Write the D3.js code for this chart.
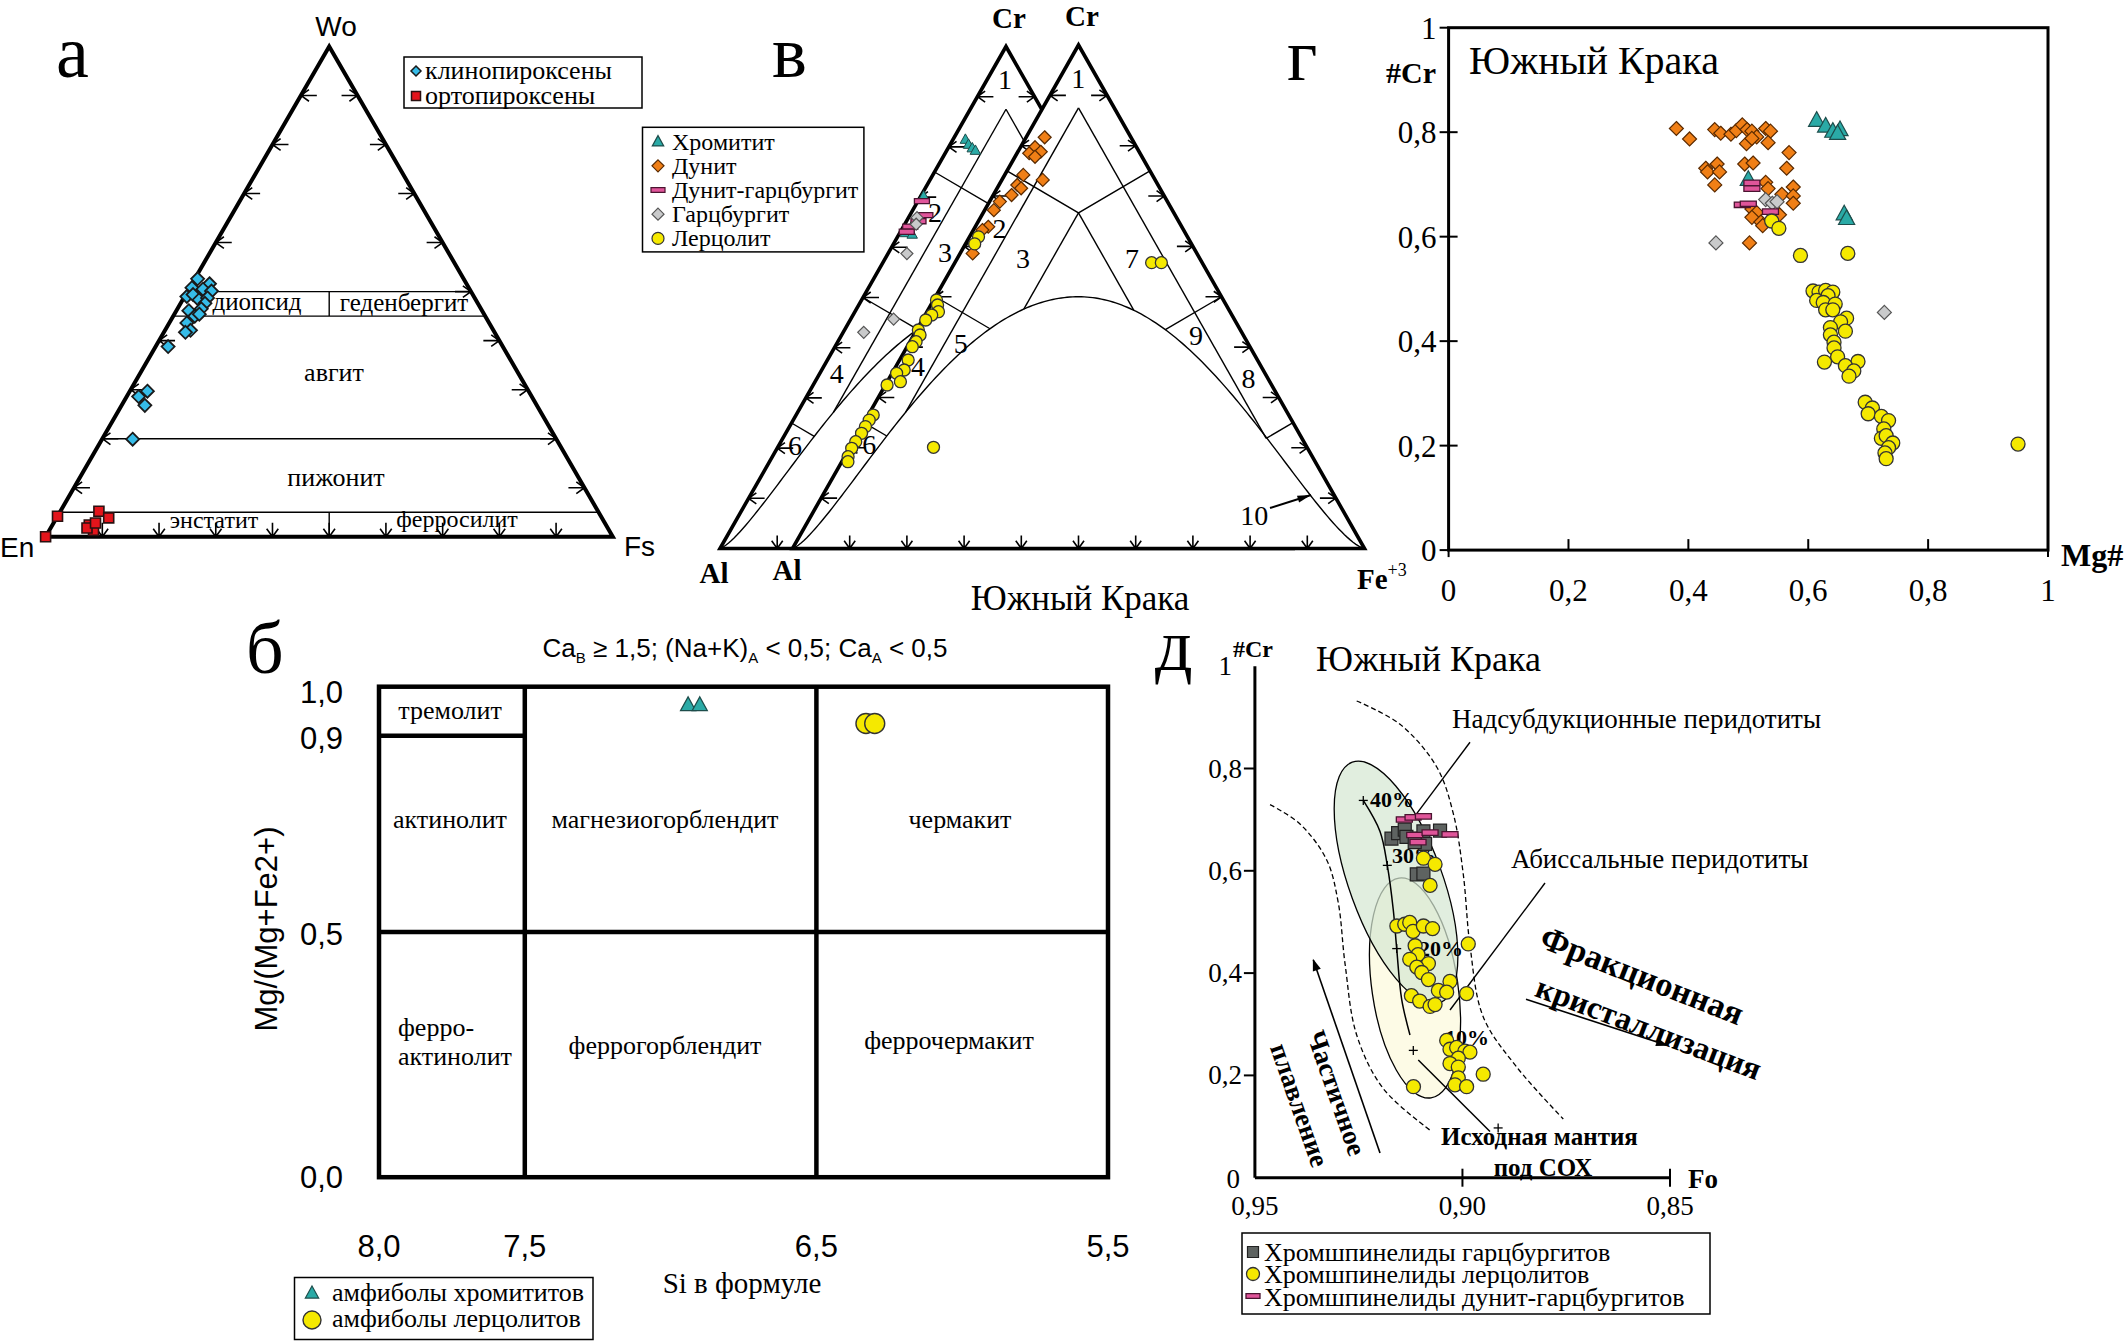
<!DOCTYPE html>
<html><head><meta charset="utf-8">
<script src="https://d3js.org/d3.v7.min.js"></script>
<style>html,body{margin:0;padding:0;background:#fff}svg{display:block}</style>
</head><body>
<svg id="chart" width="2126" height="1341" xmlns="http://www.w3.org/2000/svg"></svg>
<script>
// ================= DATA =================
// Panel а : pyroxenes, [Wo, Fs] fractions (En = 1 - Wo - Fs)
const aCpx = [[0.526,0.005],[0.516,0.031],[0.508,0.004],[0.505,0.025],[0.501,0.042],[0.490,0.004],[0.494,0.013],[0.483,0.029],[0.487,0.042],[0.476,0.043],[0.461,0.022],[0.465,0.042],[0.450,0.038],[0.454,0.044],[0.436,0.031],[0.421,0.045],[0.417,0.038],[0.388,0.022],[0.297,0.031],[0.286,0.021],[0.268,0.041],[0.199,0.054]];
const aOpx = [[0,0],[0.042,0],[0.052,0.068],[0.0385,0.092],[0.024,0.065],[0.013,0.078],[0.018,0.064],[0.028,0.074]];
const aBands = [0.5,0.45,0.2,0.05];
const aTicks = [0.1,0.2,0.3,0.4,0.5,0.6,0.7,0.8,0.9];

// Panel в : chrome spinels, [Cr, Fe3+] fractions (Al = 1 - Cr - Fe)
const vChromL = [[0.815,0.0215],[0.805,0.032],[0.798,0.042],[0.793,0.05],[0.702,0.005],[0.649,0.014],[0.629,0.0095],[0.626,0.023]];
const vDunHarzL = [[0.692,0.007],[0.664,0.027],[0.652,0.021],[0.641,0.012],[0.631,0.011]];
const vHarzL = [[0.659,0.015],[0.646,0.02],[0.5875,0.033],[0.457,0.075],[0.4306,0.036]];
const vDuniteR = [[0.8167,0.0325],[0.797,0.0255],[0.788,0.04],[0.785,0.0213],[0.778,0.035],[0.732,0.0715],[0.742,0.0325],[0.722,0.032],[0.7154,0.042],[0.702,0.032],[0.689,0.018],[0.672,0.016],[0.639,0.0227],[0.6326,0.0157],[0.586,0.022]];
const vLherzR = [[0.619,0.0157],[0.605,0.016],[0.4935,0.005],[0.4836,0.0118],[0.4703,0.02],[0.4638,0.0115],[0.4538,0.006],[0.434,0.003],[0.424,0.011],[0.4107,0.0107],[0.4008,0.009],[0.3744,0.015],[0.3545,0.018],[0.348,0.008],[0.3313,0.023],[0.3247,0.003],[0.265,0.0086],[0.255,0.0066],[0.242,0.0065],[0.2288,0.0063],[0.2121,0.0045],[0.199,0.004],[0.1823,0.006],[0.1724,0.0107],[0.201,0.146],[0.5677,0.344],[0.5677,0.361]];
const vFieldR = [["1",0.934,0.0325],["2",0.636,0.044],["3",0.576,0.1148],["7",0.576,0.3054],["4",0.361,0.0387],["5",0.4075,0.0903],["6",0.2056,0.0313],["9",0.424,0.4934],["8",0.338,0.6284],["10",0.0665,0.7742]];
const vFieldL = [["1",0.934,0.0313],["2",0.669,0.0414],["3",0.5895,0.0986],["4",0.348,0.03],["6",0.2056,0.0283]];
const vTicks = [0.1,0.2,0.3,0.4,0.5,0.6,0.7,0.8,0.9];

// Panel г : #Cr vs Mg#, [Mg#, #Cr]
const gDunite = [[.380,.807],[.402,.787],[.444,.805],[.454,.798],[.471,.796],[.480,.803],[.490,.814],[.498,.805],[.506,.802],[.514,.791],[.529,.807],[.537,.802],[.497,.778],[.506,.788],[.533,.780],[.568,.761],[.564,.731],[.429,.731],[.432,.724],[.448,.739],[.452,.724],[.444,.699],[.494,.739],[.508,.741],[.529,.704],[.533,.692],[.556,.681],[.575,.695],[.575,.678],[.575,.664],[.506,.653],[.514,.646],[.506,.637],[.521,.628],[.524,.621],[.552,.642],[.502,.588]];
const gHarz = [[.446,.588],[.529,.671],[.540,.664],[.548,.667],[.727,.455]];
const gChrom = [[.614,.823],[.629,.812],[.641,.802],[.653,.805],[.649,.798],[.500,.710],[.660,.644],[.664,.635]];
const gDunHarz = [[.506,.703],[.506,.692],[.490,.661],[.537,.648],[.500,.663]];
const gLherz = [[.539,.630],[.551,.616],[.587,.564],[.666,.568],[.608,.496],[.618,.494],[.629,.497],[.641,.494],[.633,.487],[.614,.478],[.625,.474],[.645,.471],[.629,.460],[.641,.460],[.664,.444],[.654,.437],[.637,.426],[.662,.419],[.637,.412],[.643,.398],[.643,.387],[.649,.370],[.627,.360],[.683,.361],[.662,.353],[.676,.343],[.668,.333],[.695,.283],[.707,.272],[.700,.261],[.722,.256],[.734,.248],[.726,.232],[.722,.214],[.730,.219],[.741,.205],[.734,.196],[.728,.186],[.730,.175],[.950,.203]];
const gTicks = [0,0.2,0.4,0.6,0.8,1];

// Panel б : amphiboles, [Si, Mg/(Mg+Fe2+)]
const bChrom = [[6.94,0.963],[6.90,0.963]];
const bLherz = [[6.33,0.925],[6.30,0.925]];
const bXTicks = [8.0,7.5,6.5,5.5];
const bYTicks = [1.0,0.9,0.5,0.0];

// Panel д : #Cr vs Fo, [Fo, #Cr]
const dHarz = [[.9171,.6629],[.9155,.6735],[.9139,.6805],[.9135,.6665],[.911,.663],[.9094,.6771],[.909,.6526],[.9115,.656],[.9054,.6786],[.911,.5932],[.9094,.5945]];
const dDunHarz = [[.914,.7003],[.9119,.7045],[.9094,.7063],[.9115,.67],[.9078,.6747],[.903,.6713],[.9107,.656]];
const dLherz = [[.9094,.6246],[.9066,.6127],[.9078,.5715],[.9158,.4921],[.9139,.4955],[.9127,.499],[.9119,.4816],[.9094,.4921],[.9072,.487],[.9114,.4535],[.9107,.4361],[.9127,.427],[.9082,.4186],[.911,.4117],[.9098,.4012],[.9082,.3873],[.903,.3837],[.9058,.3662],[.9038,.3628],[.9123,.3558],[.9103,.3454],[.9078,.3349],[.9066,.3384],[.8986,.457],[.899,.3599],[.9038,.2684],[.903,.2511],[.9014,.2546],[.8994,.2475],[.8982,.2455],[.901,.2337],[.903,.2232],[.901,.2163],[.895,.2023],[.901,.1953],[.9018,.1815],[.899,.178],[.9118,.178]];
const dLeftDash = [[.94636,.7294],[.93914,.6915],[.9327,.6211],[.92991,.5372],[.92829,.4186],[.92548,.279],[.91907,.1742],[.90741,.0905]];
const dRightDash = [[.92548,.932],[.91504,.8864],[.9062,.8029],[.9022,.7118],[.8998,.5932],[.89818,.4536],[.89498,.3142],[.88693,.2164],[.87571,.1148]];
const dTrendA = [[.92389,.7376],[.91986,.677],[.9181,.6106],[.91666,.5234],[.91584,.4479],[.91464,.3488],[.91264,.279]];
const dTrendB = [[.91064,.2301],[.89336,.0905]];
const dPlus = [[.92389,.7376],[.9181,.6106],[.91584,.4479],[.91184,.2489],[.8914,.0973]];
const dYTicks = [0.2,0.4,0.6,0.8];
const dXTicks = [0.95,0.90,0.85];

// ================= HELPERS =================
const SERIF='"Liberation Serif","Times New Roman",serif', SANS='"Liberation Sans",Arial,sans-serif';
const svg=d3.select('#chart');
svg.append('rect').attr('width',2126).attr('height',1341).attr('fill','#fff');
const L=d3.line();
function T(g,x,y,s,o={}){
  const t=g.append('text').attr('x',x).attr('y',y).text(s)
    .attr('font-family',o.sans?SANS:SERIF).attr('font-size',o.size||26)
    .attr('text-anchor',o.anchor||'start').attr('fill','#000');
  if(o.bold) t.attr('font-weight','bold');
  return t;
}
function shape(g,kind,x,y,s,fill,stroke,sw){
  if(kind==='circle') return g.append('circle').attr('cx',x).attr('cy',y).attr('r',s).attr('fill',fill).attr('stroke',stroke).attr('stroke-width',sw);
  let d;
  if(kind==='diamond') d=`M${x},${y-s}L${x+s},${y}L${x},${y+s}L${x-s},${y}Z`;
  else if(kind==='square') d=`M${x-s},${y-s}h${2*s}v${2*s}h${-2*s}Z`;
  else if(kind==='triangle') d=`M${x},${y-s}L${x+s*0.95},${y+s*0.72}L${x-s*0.95},${y+s*0.72}Z`;
  else if(kind==='bar') d=`M${x-s},${y-s*0.34}h${2*s}v${s*0.68}h${-2*s}Z`;
  return g.append('path').attr('d',d).attr('fill',fill).attr('stroke',stroke).attr('stroke-width',sw);
}
const C_CYAN='#36bce8', C_RED='#e3141b', C_TEAL='#2aaaa6', C_ORANGE='#f07f16', C_PINK='#e0559a', C_GRAY='#c9cacb', C_YEL='#f5e900', C_DGRAY='#5e6361';
function arrow(g,x,y,dx,dy,len,head,sw){
  const p=d3.path(); p.moveTo(x,y); p.lineTo(x+dx*len,y+dy*len);
  const a=0.62;
  for(const s of [-1,1]){const c=Math.cos(s*a),sn=Math.sin(s*a);p.moveTo(x,y);p.lineTo(x+(dx*c-dy*sn)*head,y+(dx*sn+dy*c)*head);}
  g.append('path').attr('d',p.toString()).attr('fill','none').attr('stroke','#000').attr('stroke-width',sw||1.6);
}
function path(g,pts,sw){return g.append('path').attr('d',L(pts)).attr('fill','none').attr('stroke','#000').attr('stroke-width',sw);}

// ================= PANEL а =================
{
const g=svg.append('g');
const aX=d3.scaleLinear().domain([0,1]).range([45.6,612.8]);
const aY=d3.scaleLinear().domain([0,1]).range([536.8,46.4]);
const P=(wo,fs)=>[aX(fs+wo/2),aY(wo)];
aBands.forEach(wo=>path(g,[P(wo,0),P(wo,1-wo)],1.4));
path(g,[P(0.45,0.275),P(0.5,0.25)],1.4);
path(g,[P(0,0.5),P(0.05,0.475)],1.4);
aTicks.forEach(k=>{arrow(g,...P(k,0),1,0,16,10);arrow(g,...P(k,1-k),-1,0,16,10);arrow(g,...P(0,k),0,-1,14,10);});
g.append('path').attr('d',L([P(0,0),P(0,1),P(1,0)])+'Z').attr('fill','none').attr('stroke','#000').attr('stroke-width',4).attr('stroke-linejoin','miter');
T(g,257,310,'диопсид',{size:25,anchor:'middle'});
T(g,404,311,'геденбергит',{size:25,anchor:'middle'});
T(g,334,381,'авгит',{size:26,anchor:'middle'});
T(g,336,486,'пижонит',{size:26,anchor:'middle'});
T(g,214,528,'энстатит',{size:24,anchor:'middle'});
T(g,457,527,'ферросилит',{size:24,anchor:'middle'});
aCpx.forEach(d=>shape(g,'diamond',...P(d[0],d[1]),6.5,C_CYAN,'#1a1a1a',1.8));
aOpx.forEach(d=>shape(g,'square',...P(d[0],d[1]),5,C_RED,'#2a1010',1.6));
T(g,336,36,'Wo',{sans:true,size:28,anchor:'middle'});
T(g,0,557,'En',{sans:true,size:28});
T(g,624,556,'Fs',{sans:true,size:28});
T(g,56,77,'а',{size:74});
g.append('rect').attr('x',404).attr('y',57).attr('width',238).attr('height',51).attr('fill','none').attr('stroke','#000').attr('stroke-width',1.5);
shape(g,'diamond',416,71,5,C_CYAN,'#1a1a1a',1.5);
shape(g,'square',416,96,4.5,C_RED,'#2a1010',1.5);
T(g,425,79,'клинопироксены',{size:26});
T(g,425,104,'ортопироксены',{size:26});
}

// ================= PANEL в =================
function arcH(u){const n=u<0?1.35:1.45;return 0.5*Math.pow(Math.max(0,1-u*u),n);}
function toArc(f,t1){let lo=0,hi=t1;for(let i=0;i<50;i++){const m=(lo+hi)/2;const [cr,fe]=f(m);const u=2*fe+cr-1;if(cr>arcH(u))lo=m;else hi=m;}return f((lo+hi)/2);}
const vStruct=[
 [[0.875,0.0625],toArc(t=>[0.875-t,0.0625],0.875)],
 [[0.875,0.0625],[0.21875,0.71875]],
 [[0.75,0],[2/3,1/6],[0.75,0.25]],
 [[2/3,1/6],toArc(t=>[2/3-t,1/6],2/3)],
 [[2/3,1/6],toArc(t=>[2/3-t,1/6+t],2/3)],
 [[0.5,0],toArc(t=>[0.5-t,2*t],0.5)],
 [[0.5,0.5],toArc(t=>[0.5-t,0.5-t],0.5)],
 [[0.25,0],toArc(t=>[0.25-t,2*t],0.25)],
 [[0.25,0.75],[0.21875,0.71875]]
];
function tern(ax,fx,by,cy){const xs=d3.scaleLinear().domain([0,1]).range([ax,fx]);const ys=d3.scaleLinear().domain([0,1]).range([by,cy]);return (cr,fe)=>[xs(fe+cr/2),ys(cr)];}
const tL=tern(720,1292,548.5,46.5), tR=tern(792.5,1364.5,548.5,45);
function drawTri(g,t,fields){
  g.append('path').attr('d',L([t(0,0),t(0,1),t(1,0)])+'Z').attr('fill','#fff');
  const arc=d3.range(-1,1.00001,0.01).map(u=>{const cr=arcH(u);return t(cr,(u+1-cr)/2);});
  path(g,arc,1.4);
  vStruct.forEach(s=>path(g,s.map(p=>t(p[0],p[1])),1.4));
  vTicks.forEach(k=>{arrow(g,...t(k,0),1,0,16,9.5);arrow(g,...t(k,1-k),-1,0,16,9.5);arrow(g,...t(0,k),0,-1,13,9.5);});
  g.append('path').attr('d',L([t(0,0),t(0,1),t(1,0)])+'Z').attr('fill','none').attr('stroke','#000').attr('stroke-width',3.6);
  fields.forEach(f=>{const [x,y]=t(f[1],f[2]);T(g,x,y+9.5,f[0],{size:28,anchor:'middle'});});
}
{
const g=svg.append('g');
drawTri(g,tL,vFieldL);
drawTri(g,tR,vFieldR);
const p1=tR(0.0804,0.7946), p2=tR(0.1063,0.8533);
path(g,[p1,p2],2);
const ang=Math.atan2(p2[1]-p1[1],p2[0]-p1[0]);
g.append('path').attr('d',`M${p2[0]},${p2[1]}L${p2[0]-14*Math.cos(ang-0.25)},${p2[1]-14*Math.sin(ang-0.25)}L${p2[0]-14*Math.cos(ang+0.25)},${p2[1]-14*Math.sin(ang+0.25)}Z`).attr('fill','#000');
vChromL.forEach(d=>shape(g,'triangle',...tL(d[0],d[1]),5.5,C_TEAL,'#1d4d4b',1));
vDunHarzL.forEach(d=>shape(g,'bar',...tL(d[0],d[1]),7.5,C_PINK,'#4a1430',1.3));
vHarzL.forEach(d=>shape(g,'diamond',...tL(d[0],d[1]),6,C_GRAY,'#555',1.2));
vDuniteR.forEach(d=>shape(g,'diamond',...tR(d[0],d[1]),6.5,C_ORANGE,'#5a2a00',1.2));
vLherzR.forEach(d=>shape(g,'circle',...tR(d[0],d[1]),6,C_YEL,'#333',1.3));
T(g,1009,28,'Cr',{size:29,bold:true,anchor:'middle'});
T(g,1082,26,'Cr',{size:29,bold:true,anchor:'middle'});
T(g,714,583,'Al',{size:29,bold:true,anchor:'middle'});
T(g,787,580,'Al',{size:29,bold:true,anchor:'middle'});
const fe=T(g,1357,589,'Fe',{size:29,bold:true});
fe.append('tspan').attr('dy',-13).attr('font-size',18).attr('font-weight','normal').text('+3');
T(g,1080,610,'Южный Крака',{size:35,anchor:'middle'});
T(g,772,77,'в',{size:74});
T(g,1287,80,'г',{size:74});
g.append('rect').attr('x',642.5).attr('y',127.3).attr('width',221.4).attr('height',124.6).attr('fill','#fff').attr('stroke','#000').attr('stroke-width',1.5);
const legs=[['triangle','Хромитит',C_TEAL,'#1d4d4b'],['diamond','Дунит',C_ORANGE,'#5a2a00'],['bar','Дунит-гарцбургит',C_PINK,'#4a1430'],['diamond','Гарцбургит',C_GRAY,'#555'],['circle','Лерцолит',C_YEL,'#333']];
legs.forEach((l,i)=>{const y=141.6+i*24.2;shape(g,l[0],658,y,l[0]==='bar'?7:6,l[2],l[3],1.2);T(g,672,y+8,l[1],{size:24});});
}

// ================= PANEL г =================
{
const g=svg.append('g');
const x=d3.scaleLinear().domain([0,1]).range([1448.6,2048]);
const y=d3.scaleLinear().domain([0,1]).range([550.1,27.7]);
g.append('rect').attr('x',x(0)).attr('y',y(1)).attr('width',x(1)-x(0)).attr('height',y(0)-y(1)).attr('fill','none').attr('stroke','#000').attr('stroke-width',3);
const fmt=d=>d===0?'0':d===1?'1':d.toFixed(1).replace('.',',');
gTicks.forEach(d=>{
  const inner=(d>0&&d<1)?9:0;
  path(g,[[x(0)-9,y(d)],[x(0)+inner,y(d)]],2);
  if(d>0&&d<1) path(g,[[x(d),y(0)],[x(d),y(0)-11]],2); else path(g,[[x(d),y(0)],[x(d),y(0)+7]],2);
  T(g,x(0)-12,y(d)+11,fmt(d),{size:31,anchor:'end'});
  T(g,x(d),601,fmt(d),{size:31,anchor:'middle'});
});
T(g,1436,83,'#Cr',{size:30,bold:true,anchor:'end'});
T(g,2061,566,'Mg#',{size:32,bold:true});
T(g,1469,74,'Южный Крака',{size:40});
gDunite.forEach(d=>shape(g,'diamond',x(d[0]),y(d[1]),7,C_ORANGE,'#5a2a00',1.2));
gHarz.forEach(d=>shape(g,'diamond',x(d[0]),y(d[1]),7,C_GRAY,'#555',1.2));
gChrom.forEach(d=>shape(g,'triangle',x(d[0]),y(d[1]),8.5,C_TEAL,'#1d4d4b',1.2));
gDunHarz.forEach(d=>shape(g,'bar',x(d[0]),y(d[1]),8,C_PINK,'#4a1430',1.3));
gLherz.forEach(d=>shape(g,'circle',x(d[0]),y(d[1]),7,C_YEL,'#333',1.3));
}

// ================= PANEL б =================
{
const g=svg.append('g');
const x=d3.scaleLinear().domain([8,5.5]).range([379,1108]);
const y=d3.scaleLinear().domain([0,1]).range([1177.2,686.7]);
const sw=4.5;
g.append('rect').attr('x',x(8)).attr('y',y(1)).attr('width',x(5.5)-x(8)).attr('height',y(0)-y(1)).attr('fill','none').attr('stroke','#000').attr('stroke-width',sw);
path(g,[[x(7.5),y(1)],[x(7.5),y(0)]],sw);
path(g,[[x(6.5),y(1)],[x(6.5),y(0)]],sw);
path(g,[[x(8),y(0.5)],[x(5.5),y(0.5)]],sw);
path(g,[[x(8),y(0.9)],[x(7.5),y(0.9)]],sw);
const fmt=d=>d.toFixed(1).replace('.',',');
bYTicks.forEach(d=>T(g,343,y(d)+(d===1?16:d===0?11:13),fmt(d),{sans:true,size:31,anchor:'end'}));
bXTicks.forEach(d=>T(g,x(d),1257,fmt(d),{sans:true,size:31,anchor:'middle'}));
T(g,450,719,'тремолит',{size:26,anchor:'middle'});
T(g,450,828,'актинолит',{size:26,anchor:'middle'});
T(g,665,828,'магнезиогорблендит',{size:26,anchor:'middle'});
T(g,960,828,'чермакит',{size:26,anchor:'middle'});
T(g,398,1036,'ферро-',{size:26});
T(g,398,1065,'актинолит',{size:26});
T(g,665,1054,'феррогорблендит',{size:26,anchor:'middle'});
T(g,949,1049,'феррочермакит',{size:26,anchor:'middle'});
const f=T(g,745,657,'Ca',{sans:true,size:26,anchor:'middle'});
f.append('tspan').attr('font-size',15).attr('dy',6).text('B');
f.append('tspan').attr('dy',-6).text(' ≥ 1,5; (Na+K)');
f.append('tspan').attr('font-size',15).attr('dy',6).text('A');
f.append('tspan').attr('dy',-6).text(' < 0,5; Ca');
f.append('tspan').attr('font-size',15).attr('dy',6).text('A');
f.append('tspan').attr('dy',-6).text(' < 0,5');
T(g,0,0,'Mg/(Mg+Fe2+)',{sans:true,size:31,anchor:'middle'}).attr('transform','translate(277,929) rotate(-90)');
T(g,742,1293,'Si в формуле',{size:29,anchor:'middle'});
T(g,246,673,'б',{size:74});
bChrom.forEach(d=>shape(g,'triangle',x(d[0]),y(d[1]),8,C_TEAL,'#1d4d4b',1.2));
bLherz.forEach(d=>shape(g,'circle',x(d[0]),y(d[1]),10,C_YEL,'#333',1.4));
g.append('rect').attr('x',294.5).attr('y',1277.5).attr('width',298.5).attr('height',62).attr('fill','#fff').attr('stroke','#000').attr('stroke-width',1.5);
shape(g,'triangle',312,1293,7,C_TEAL,'#1d4d4b',1.2);
shape(g,'circle',312,1320,9,C_YEL,'#333',1.4);
T(g,332,1301,'амфиболы хромититов',{size:26});
T(g,332,1327,'амфиболы лерцолитов',{size:26});
}

// ================= PANEL д =================
{
const g=svg.append('g');
const x=d3.scaleLinear().domain([0.95,0.85]).range([1254.9,1670]);
const y=d3.scaleLinear().domain([0,1]).range([1177.7,666.2]);
const curve=d3.line().x(d=>x(d[0])).y(d=>y(d[1])).curve(d3.curveCatmullRom.alpha(0.5));
const straight=d3.line().x(d=>x(d[0])).y(d=>y(d[1]));
g.append('path').attr('d',curve(dLeftDash)).attr('fill','none').attr('stroke','#000').attr('stroke-width',1.3).attr('stroke-dasharray','5,3');
g.append('path').attr('d',curve(dRightDash)).attr('fill','none').attr('stroke','#000').attr('stroke-width',1.3).attr('stroke-dasharray','5,3');
const ab={fo:0.91143,cr:0.3709,rx:111,ry:43,rot:81.7};
g.append('ellipse').attr('cx',0).attr('cy',0).attr('rx',ab.rx).attr('ry',ab.ry).attr('transform',`translate(${x(ab.fo)},${y(ab.cr)}) rotate(${ab.rot})`).attr('fill','#fdfbe6').attr('stroke','#000').attr('stroke-width',1.3);
const ss={fo:0.916,cr:0.5771,rx:128,ry:46.5,rot:70};
g.append('ellipse').attr('cx',0).attr('cy',0).attr('rx',ss.rx).attr('ry',ss.ry).attr('transform',`translate(${x(ss.fo)},${y(ss.cr)}) rotate(${ss.rot})`).attr('fill','rgba(214,232,210,0.72)').attr('stroke','#000').attr('stroke-width',1.3);
g.append('path').attr('d',curve(dTrendA)).attr('fill','none').attr('stroke','#000').attr('stroke-width',1.5);
g.append('path').attr('d',straight(dTrendB)).attr('fill','none').attr('stroke','#000').attr('stroke-width',1.5);
dPlus.forEach(d=>{const px=x(d[0]),py=y(d[1]);path(g,[[px-4.5,py],[px+4.5,py]],1.3);path(g,[[px,py-4.5],[px,py+4.5]],1.3);});
T(g,1370,807,'40%',{size:22,bold:true});
T(g,1392,863,'30%',{size:22,bold:true});
T(g,1419,956,'20%',{size:22,bold:true});
T(g,1445,1045,'10%',{size:22,bold:true});
path(g,[[x(0.89818),y(0.8514)],[x(0.91102),y(0.7118)]],1.4);
path(g,[[x(0.88011),y(0.5761)],[x(0.9030),y(0.3279)]],1.4);
path(g,[[x(0.95),y(1)],[x(0.95),y(0)]],3);
path(g,[[x(0.95),y(0)],[x(0.85),y(0)]],3);
dYTicks.forEach(d=>{path(g,[[x(0.95)-11,y(d)],[x(0.95),y(d)]],2);T(g,1242,y(d)+9,d.toFixed(1).replace('.',','),{size:27,anchor:'end'});});
T(g,1240,1188,'0',{size:27,anchor:'end'});
T(g,1232,675,'1',{size:27,anchor:'end'});
T(g,1233,657,'#Cr',{size:24,bold:true});
dXTicks.forEach(d=>{if(d!==0.95)path(g,[[x(d),y(0)-9],[x(d),y(0)+9]],2);T(g,x(d),1215,d.toFixed(2).replace('.',','),{size:27,anchor:'middle'});});
T(g,1688,1188,'Fo',{size:27,bold:true});
dHarz.forEach(d=>shape(g,'square',x(d[0]),y(d[1]),6.5,C_DGRAY,'#222',1.2));
dDunHarz.forEach(d=>shape(g,'bar',x(d[0]),y(d[1]),8,C_PINK,'#4a1430',1.3));
dLherz.forEach(d=>shape(g,'circle',x(d[0]),y(d[1]),7,C_YEL,'#333',1.3));
const defs=svg.append('defs');
defs.append('marker').attr('id','ah').attr('viewBox','0 0 10 10').attr('refX',9).attr('refY',5).attr('orient','auto').attr('markerUnits','userSpaceOnUse').attr('markerWidth',16).attr('markerHeight',12)
  .append('path').attr('d','M0,1.5L10,5L0,8.5Z').attr('fill','#000');
g.append('path').attr('d',L([[x(0.91986),y(0.0485)],[x(0.93593),y(0.4256)]])).attr('stroke','#000').attr('stroke-width',1.6).attr('marker-end','url(#ah)');
g.append('path').attr('d',L([[x(0.88469),y(0.3488)],[x(0.85075),y(0.2588)]])).attr('stroke','#000').attr('stroke-width',1.6).attr('marker-end','url(#ah)');
T(g,1316,671,'Южный Крака',{size:36});
T(g,1155,670,'д',{size:74});
T(g,1452,728,'Надсубдукционные перидотиты',{size:27});
T(g,1511,868,'Абиссальные перидотиты',{size:27});
T(g,1441,1145,'Исходная мантия',{size:25,bold:true});
T(g,1543,1176,'под СОХ',{size:25,bold:true,anchor:'middle'});
T(g,0,0,'Частичное',{size:27,bold:true,anchor:'middle'}).attr('transform','translate(1328,1096) rotate(70.7)');
T(g,0,0,'плавление',{size:27,bold:true,anchor:'middle'}).attr('transform','translate(1291,1108) rotate(70.7)');
T(g,0,0,'Фракционная',{size:34,bold:true,anchor:'middle'}).attr('transform','translate(1638,986) rotate(21.5)');
T(g,0,0,'кристаллизация',{size:32,bold:true,anchor:'middle'}).attr('transform','translate(1645,1038) rotate(20.8)');
g.append('rect').attr('x',1242).attr('y',1233).attr('width',468).attr('height',81).attr('fill','#fff').attr('stroke','#000').attr('stroke-width',1.5);
shape(g,'square',1253,1252,5.5,C_DGRAY,'#222',1.2);
shape(g,'circle',1253,1274,6.5,C_YEL,'#333',1.3);
shape(g,'bar',1253,1296,7,C_PINK,'#4a1430',1.3);
T(g,1264,1261,'Хромшпинелиды гарцбургитов',{size:26});
T(g,1264,1283,'Хромшпинелиды лерцолитов',{size:26});
T(g,1264,1306,'Хромшпинелиды дунит-гарцбургитов',{size:26});
}
</script></body></html>
